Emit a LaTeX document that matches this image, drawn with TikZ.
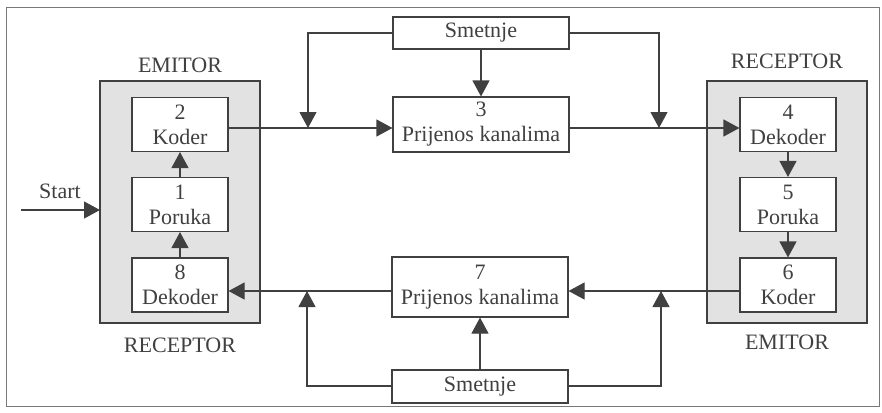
\documentclass[tikz,border=0pt]{standalone}
\usepackage{fontspec}
\setmainfont{Liberation Serif}
\usetikzlibrary{arrows.meta}
\definecolor{ink}{HTML}{404040}
\definecolor{panel}{HTML}{E2E2E2}
\begin{document}
\begin{tikzpicture}[x=1pt,y=-1pt,
  font=\fontsize{22}{25}\selectfont,
  every node/.style={text=ink},
  blk/.style={draw=ink,line width=1.1pt,fill=white,align=center,inner sep=0pt},
  unit/.style={blk,minimum width=96,minimum height=54},
  chan/.style={blk,minimum width=176},
  link/.style={draw=ink,line width=1.1pt},
  arr/.style={link,-{Triangle[length=16pt,width=17pt]}}]
\useasboundingbox (0,0) rectangle (882,412);
% outer frame
\draw[ink!70,line width=0.7pt] (6,7) rectangle (879,406);
% grey panels
\draw[ink,line width=1.1pt,fill=panel] (100,81) rectangle (260,323);
\draw[ink,line width=1.1pt,fill=panel] (707,81) rectangle (867,323);
\node (lt) at (180,65) {EMITOR};
\node (lb) at (180,345) {RECEPTOR};
\node (rt) at (787,61) {RECEPTOR};
\node (rb) at (787,342) {EMITOR};
% left station
\node[unit] (b2) at (180,124.5) {2\\Koder};
\node[unit] (b1) at (180,204.5) {1\\Poruka};
\node[unit] (b8) at (180,285) {8\\Dekoder};
% right station
\node[unit] (b4) at (788,124.5) {4\\Dekoder};
\node[unit] (b5) at (788,204.5) {5\\Poruka};
\node[unit] (b6) at (788,285) {6\\Koder};
% channels and noise
\node[chan,minimum height=55] (b3) at (481,124.5) {3\\Prijenos kanalima};
\node[chan,minimum height=60] (b7) at (480,287) {7\\Prijenos kanalima};
\node[chan,minimum height=32] (s1) at (481,33) {Smetnje};
\node[chan,minimum height=33] (s2) at (480,386.5) {Smetnje};
% start input
\coordinate (st) at (21,210);
\coordinate (pl) at (100,210);
\node (stl) at (60,191) {Start};
\draw[arr] (st) -- (pl);
% internal links
\draw[arr] (b1) -- (b2);
\draw[arr] (b8) -- (b1);
\draw[arr] (b4) -- (b5);
\draw[arr] (b5) -- (b6);
% forward path
\coordinate (yt) at (0,128);
\coordinate (yb) at (0,291);
\draw[arr] (b2.east |- yt) -- (b3.west |- yt);
\draw[arr] (b3.east |- yt) -- (b4.west |- yt);
% return path
\draw[arr] (b6.west |- yb) -- (b7.east |- yb);
\draw[arr] (b7.west |- yb) -- (b8.east |- yb);
% noise upper
\coordinate (n1) at (308,33);
\coordinate (n2) at (659,33);
\draw[arr] (s1.west) -- (n1) -- (n1 |- yt);
\draw[arr] (s1.east) -- (n2) -- (n2 |- yt);
\draw[arr] (s1) -- (b3);
% noise lower
\coordinate (m1) at (307,386);
\coordinate (m2) at (661,386);
\draw[arr] (s2.west |- m1) -- (m1) -- (m1 |- yb);
\draw[arr] (s2.east |- m2) -- (m2) -- (m2 |- yb);
\draw[arr] (s2) -- (b7);
\end{tikzpicture}
\end{document}
